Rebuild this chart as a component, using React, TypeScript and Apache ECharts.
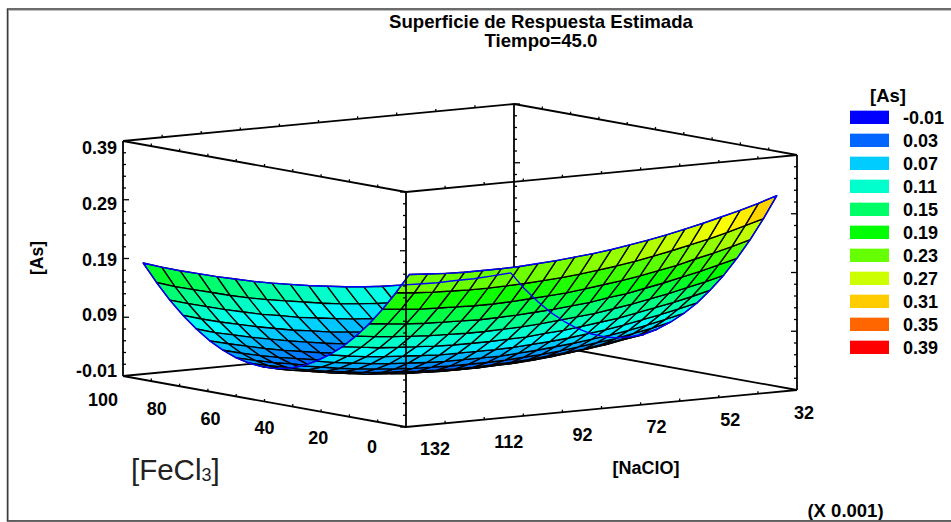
import React, { useEffect, useRef } from "react";
import * as echarts from "echarts";

const titleLines = ["Superficie de Respuesta Estimada", "Tiempo=45.0"];
const nGrid = [129,124.3,119.6,114.9,110.2,105.5,100.8,96.1,91.4,86.7,82,77.3,72.6,67.9,63.2,58.5,53.8,49.1,44.4,39.7,35];
const fGrid = [3,7.7,12.4,17.1,21.8,26.5,31.2,35.9,40.6,45.3,50,54.7,59.4,64.1,68.8,73.5,78.2,82.9,87.6,92.3,97];
// rows follow fGrid, columns follow nGrid; values as read on the z axis
const surfaceZ = [
[.245,.243,.241,.240,.240,.240,.241,.243,.245,.248,.251,.255,.260,.265,.271,.278,.285,.293,.301,.310,.320],
[.210,.207,.205,.204,.203,.203,.204,.205,.207,.209,.212,.216,.220,.225,.231,.237,.244,.251,.259,.268,.277],
[.178,.175,.172,.171,.170,.169,.169,.170,.172,.174,.176,.180,.184,.188,.193,.199,.205,.213,.220,.228,.237],
[.149,.146,.143,.141,.140,.139,.138,.139,.140,.142,.144,.147,.150,.155,.159,.165,.171,.178,.185,.193,.201],
[.124,.120,.117,.115,.113,.112,.111,.111,.112,.113,.115,.118,.121,.124,.129,.134,.140,.146,.153,.160,.168],
[.102,.098,.094,.092,.090,.088,.087,.087,.087,.088,.089,.092,.094,.098,.102,.106,.112,.118,.124,.131,.139],
[.084,.079,.075,.072,.070,.068,.066,.066,.066,.066,.067,.069,.071,.074,.078,.082,.087,.093,.099,.106,.113],
[.069,.064,.060,.056,.053,.051,.049,.048,.048,.048,.048,.050,.052,.055,.058,.062,.066,.071,.077,.084,.091],
[.057,.052,.047,.043,.040,.037,.035,.034,.033,.033,.033,.034,.036,.038,.041,.045,.049,.053,.059,.065,.072],
[.049,.043,.038,.034,.030,.027,.025,.023,.022,.021,.021,.022,.023,.025,.028,.031,.034,.039,.044,.049,.056],
[.044,.038,.033,.028,.024,.020,.018,.015,.014,.013,.013,.013,.014,.015,.017,.020,.024,.028,.032,.038,.043],
[.043,.036,.031,.026,.021,.017,.014,.011,.009,.008,.007,.007,.008,.009,.011,.013,.016,.020,.024,.029,.035],
[.045,.038,.032,.026,.022,.017,.014,.011,.008,.007,.006,.005,.005,.006,.008,.009,.012,.015,.019,.024,.029],
[.050,.043,.036,.031,.025,.021,.017,.014,.011,.009,.007,.006,.006,.007,.008,.009,.012,.014,.018,.022,.027],
[.059,.051,.044,.038,.033,.028,.023,.020,.017,.014,.012,.011,.010,.010,.011,.012,.014,.017,.020,.024,.028],
[.071,.063,.056,.049,.043,.038,.033,.029,.026,.023,.021,.019,.018,.018,.018,.019,.020,.023,.025,.029,.033],
[.087,.078,.071,.064,.058,.052,.047,.042,.038,.035,.033,.031,.029,.028,.028,.029,.030,.032,.034,.037,.041],
[.106,.097,.089,.082,.075,.069,.063,.059,.054,.051,.048,.045,.044,.043,.042,.042,.043,.044,.046,.049,.052],
[.128,.119,.111,.103,.096,.089,.084,.078,.074,.070,.066,.064,.062,.060,.059,.059,.059,.060,.062,.064,.067],
[.154,.144,.136,.128,.120,.113,.107,.102,.097,.092,.088,.085,.083,.081,.080,.079,.079,.080,.081,.083,.085],
[.183,.173,.164,.156,.148,.141,.134,.128,.123,.118,.114,.110,.107,.105,.104,.103,.102,.103,.103,.105,.107],
];
const zTickLabels = ["-0.01", "0.09", "0.19", "0.29", "0.39"];
const nTickLabels = ["132", "112", "92", "72", "52", "32"];
const fTickLabels = ["0", "20", "40", "60", "80", "100"];
const legendLabels = ["-0.01","0.03","0.07","0.11","0.15","0.19","0.23","0.27","0.31","0.35","0.39"];
const legendColors = ["#0000ff","#0066ff","#00ccff","#00ffcc","#00ff66","#00ff00","#66ff00","#ccff00","#ffcc00","#ff6600","#ff0000"];
const rampStops = [-0.01, 0.09, 0.19, 0.29, 0.39];
const rampColors = [[0,0,255],[0,255,255],[0,255,0],[255,255,0],[255,0,0]];

const N0 = 132, N1 = 32, F0 = 0, F1 = 100, Z0 = -0.01, Z1 = 0.39;

function project(n: number, f: number, z: number): number[] {
  const t = (N0 - n) / (N0 - N1), u = f / F1, v = (z - Z0) / (Z1 - Z0);
  return [406 + 391 * t - 283 * u, 427 - 37 * t - 51 * u - 235 * v];
}
function ramp(z: number): string {
  let k = 0;
  while (k < rampStops.length - 2 && z > rampStops[k + 1]) k++;
  const a = Math.max(0, Math.min(1, (z - rampStops[k]) / (rampStops[k + 1] - rampStops[k])));
  const c = rampColors[k].map((v, m) => Math.round(v + (rampColors[k + 1][m] - v) * a));
  return `rgb(${c.join(",")})`;
}

const FONT = '"Liberation Sans", Arial, sans-serif';
const LABEL = 18;
const boldText = (x: number, y: number, text: string, align = "center", size = LABEL) => ({
  type: "text",
  style: { x, y, text, fill: "#000", fontFamily: FONT, fontWeight: "bold", fontSize: size, textAlign: align, textVerticalAlign: "middle" },
});
const graphicBold = (x: number, y: number, text: string, size: number, rotation = 0) => ({
  type: "text", silent: true, x, y, rotation,
  style: { text, fontFamily: FONT, fontWeight: "bold", fontSize: size, fill: "#000", textAlign: "center", textVerticalAlign: "middle" },
});

type Seg = { a: number[]; b: number[] };
const corner = (nn: number, ff: number, zz: number) => [nn, ff, zz];
const backEdges: number[][][] = [
  [corner(N0, F1, Z0), corner(N1, F1, Z0)],
  [corner(N1, F1, Z0), corner(N1, F0, Z0)],
  [corner(N1, F1, Z0), corner(N1, F1, Z1)],
];
const frontEdges: number[][][] = [
  [corner(N0, F0, Z0), corner(N0, F0, Z1)],
  [corner(N0, F1, Z0), corner(N0, F1, Z1)],
  [corner(N1, F0, Z0), corner(N1, F0, Z1)],
  [corner(N0, F0, Z0), corner(N1, F0, Z0)],
  [corner(N0, F0, Z0), corner(N0, F1, Z0)],
  [corner(N0, F0, Z1), corner(N1, F0, Z1)],
  [corner(N0, F0, Z1), corner(N0, F1, Z1)],
  [corner(N0, F1, Z1), corner(N1, F1, Z1)],
  [corner(N1, F0, Z1), corner(N1, F1, Z1)],
];

function zTicks(nn: number, ff: number, dir: number): Seg[] {
  const out: Seg[] = [];
  for (let k = 0; k <= 20; k++) {
    const z = Z0 + k * 0.02;
    const p = project(nn, ff, z);
    out.push({ a: p, b: [p[0] + dir * (k % 5 === 0 ? 6 : 3), p[1]] });
  }
  return out;
}
function edgeTicks(): Seg[] {
  const out: Seg[] = [];
  for (const z of [Z0, Z1]) {
    for (let k = 1; k < 10; k++) {
      for (const ff of z === Z0 ? [F0] : [F0, F1]) {
        const p = project(N0 - k * 10, ff, z);
        out.push({ a: p, b: [p[0], p[1] - 2.5] });
      }
      for (const nn of z === Z0 ? [N0] : [N0, N1]) {
        const p = project(nn, F0 + k * 10, z);
        out.push({ a: p, b: [p[0], p[1] - 2.5] });
      }
    }
  }
  return out;
}
const frontTicks = [...zTicks(N0, F0, -1), ...zTicks(N0, F1, 1), ...zTicks(N1, F0, -1), ...edgeTicks()];
const backTicks = zTicks(N1, F1, 1);

function line(api: any, a: number[], b: number[], stroke: string, lineWidth: number) {
  const p = api.coord(a), q = api.coord(b);
  return { type: "line", shape: { x1: p[0], y1: p[1], x2: q[0], y2: q[1] }, style: { stroke, lineWidth, fill: null } };
}

const cells: number[][] = [];
for (let j = 0; j < fGrid.length - 1; j++) for (let i = 0; i < nGrid.length - 1; i++) cells.push([i, j]);
cells.sort((p, q) => q[0] + q[1] - (p[0] + p[1]));

const outlineDomain: number[][] = [
  ...nGrid.map((n, i) => [n, fGrid[0], surfaceZ[0][i]]),
  ...fGrid.map((f, j) => [nGrid[nGrid.length - 1], f, surfaceZ[j][nGrid.length - 1]]),
  ...nGrid.map((n, i) => [n, fGrid[fGrid.length - 1], surfaceZ[fGrid.length - 1][i]]).reverse(),
  ...fGrid.map((f, j) => [nGrid[0], f, surfaceZ[j][0]]).reverse(),
];

function buildOption(): any {
  const base = { type: "custom", coordinateSystem: "cartesian2d", clip: false, silent: true, encode: { x: 0, y: 1 } };
  const lineData = (arr: any[]) => arr.map(() => [0, 0]);
  return {
    animation: false,
    backgroundColor: "#fff",
    grid: { left: 0, right: 0, top: 0, bottom: 0 },
    xAxis: { type: "value", min: 0, max: 951, show: false },
    yAxis: { type: "value", min: 0, max: 522, inverse: true, show: false },
    graphic: [
      { type: "rect", silent: true, shape: { x: 8.5, y: 10.5, width: 960, height: 510 }, style: { fill: "none", stroke: "#bdbdbd", lineWidth: 1 }, z: 100 },
      { type: "rect", silent: true, shape: { x: 7.5, y: 9, width: 960, height: 512 }, style: { fill: "none", stroke: "#3c3c3c", lineWidth: 1.5 }, z: 100 },
      graphicBold(541, 21, titleLines[0], 18.6),
      graphicBold(541, 40.5, titleLines[1], 18.6),
      graphicBold(37, 258, "[As]", 17.5, Math.PI / 2),
      graphicBold(646, 468, "[NaClO]", 18),
      graphicBold(845.5, 510.5, "(X 0.001)", 18.5),
      graphicBold(888, 95, "[As]", 18.5),
      { type: "text", silent: true, x: 131, y: 469, style: {
          text: "{a|[FeCl}{b|3}{a|]}", fill: "#222", textVerticalAlign: "middle",
          rich: { a: { fontFamily: FONT, fontSize: 29.5, fill: "#222", verticalAlign: "bottom" }, b: { fontFamily: FONT, fontSize: 18, fill: "#222", verticalAlign: "bottom" } },
        } },
    ],
    series: [
      { ...base, name: "back", z: 1, data: lineData(backEdges),
        renderItem: (p: any, api: any) => {
          const e = backEdges[p.dataIndex];
          return line(api, project(e[0][0], e[0][1], e[0][2]), project(e[1][0], e[1][1], e[1][2]), "#000", 1.8);
        } },
      { ...base, name: "backTicks", z: 1, data: lineData(backTicks),
        renderItem: (p: any, api: any) => line(api, backTicks[p.dataIndex].a, backTicks[p.dataIndex].b, "#000", 1.3) },
      { ...base, name: "surface", z: 2, data: lineData(cells),
        renderItem: (p: any, api: any) => {
          const [i, j] = cells[p.dataIndex];
          const zs = [surfaceZ[j][i], surfaceZ[j][i + 1], surfaceZ[j + 1][i + 1], surfaceZ[j + 1][i]];
          const pts = [
            project(nGrid[i], fGrid[j], zs[0]),
            project(nGrid[i + 1], fGrid[j], zs[1]),
            project(nGrid[i + 1], fGrid[j + 1], zs[2]),
            project(nGrid[i], fGrid[j + 1], zs[3]),
          ].map((q) => api.coord(q));
          const mean = (zs[0] + zs[1] + zs[2] + zs[3]) / 4;
          const shade = (mean + Math.max(...zs)) / 2;
          return { type: "polygon", shape: { points: pts }, style: { fill: ramp(shade), stroke: "#000", lineWidth: 1.35, lineJoin: "round" } };
        } },
      { ...base, name: "outline", z: 3, data: [[0, 0]],
        renderItem: (_p: any, api: any) => ({
          type: "polygon",
          shape: { points: outlineDomain.map((d) => api.coord(project(d[0], d[1], d[2]))) },
          style: { fill: "none", stroke: "#0000ff", lineWidth: 1.4, lineJoin: "round" },
        }) },
      { ...base, name: "front", z: 4, data: lineData(frontEdges),
        renderItem: (p: any, api: any) => {
          const e = frontEdges[p.dataIndex];
          return line(api, project(e[0][0], e[0][1], e[0][2]), project(e[1][0], e[1][1], e[1][2]), "#000", 1.8);
        } },
      { ...base, name: "frontTicks", z: 4, data: lineData(frontTicks),
        renderItem: (p: any, api: any) => line(api, frontTicks[p.dataIndex].a, frontTicks[p.dataIndex].b, "#000", 1.3) },
      { ...base, name: "zLabels", z: 5, data: lineData(zTickLabels),
        renderItem: (p: any) => boldText(117, 371 - 55.75 * p.dataIndex, zTickLabels[p.dataIndex], "right") },
      { ...base, name: "nLabels", z: 5, data: lineData(nTickLabels),
        renderItem: (p: any) => boldText(435 + 73.8 * p.dataIndex, 449 - 7.2 * p.dataIndex, nTickLabels[p.dataIndex]) },
      { ...base, name: "fLabels", z: 5, data: lineData(fTickLabels),
        renderItem: (p: any) => boldText(372 - 53.8 * p.dataIndex, 447 - 9.4 * p.dataIndex, fTickLabels[p.dataIndex]) },
      { ...base, name: "legendSwatches", z: 5, data: lineData(legendColors),
        renderItem: (p: any) => ({
          type: "group",
          children: [
            { type: "rect", shape: { x: 850, y: 110 + 23 * p.dataIndex, width: 39, height: 14 }, style: { fill: legendColors[p.dataIndex], opacity: 0.35 } },
            { type: "rect", shape: { x: 850, y: 111 + 23 * p.dataIndex, width: 39, height: 13 }, style: { fill: legendColors[p.dataIndex] } },
          ],
        }) },
      { ...base, name: "legendLabels", z: 5, data: lineData(legendLabels),
        renderItem: (p: any) => boldText(903, 117.5 + 23 * p.dataIndex, legendLabels[p.dataIndex], "left") },
    ],
  };
}

export default function App() {
  const ref = useRef<HTMLDivElement>(null);
  useEffect(() => {
    const chart = echarts.init(ref.current!, undefined, { renderer: "svg" });
    chart.setOption(buildOption());
    return () => chart.dispose();
  }, []);
  return <div ref={ref} style={{ position: "absolute", left: 0, top: 0, width: 951, height: 522 }} />;
}
